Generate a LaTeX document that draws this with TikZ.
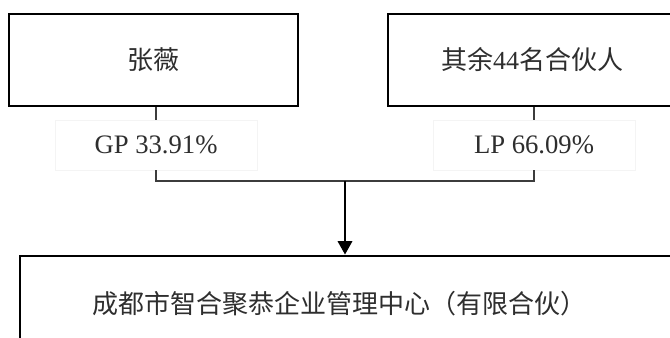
\documentclass[tikz,border=0pt]{standalone}
\usepackage{fontspec}
\setmainfont{Liberation Serif}
\newfontfamily\cjk{Noto Sans CJK SC}
\usetikzlibrary{arrows.meta,positioning}
\definecolor{Ink}{HTML}{2E2E2E}
\definecolor{Wire}{HTML}{3C3C3C}
\definecolor{Ghost}{HTML}{F4F4F4}
\tikzset{
  entity/.style={draw=black,fill=white,line width=1.5pt,minimum width=216.75pt,minimum height=69pt,inner sep=0pt,align=center,text=Ink,font=\fontsize{19.5}{23}\selectfont},
  share/.style={draw=Ghost,fill=white,line width=.5pt,minimum width=151.5pt,minimum height=37.5pt,inner sep=0pt,align=center,text=Ink,font=\fontsize{20}{23}\selectfont},
  link/.style={draw=Wire,line width=.8pt},
  flow/.style={-{Triangle[length=10pt,width=11pt]},draw=black,line width=.9pt}
}
\begin{document}
\begin{tikzpicture}[x=.75pt,y=-.75pt]
  \path[use as bounding box,fill=white] (0,0) rectangle (670,338);
  \clip (0,0) rectangle (670,338);

  % partners
  \node[entity] (zhang) at (153.5,60) {{\cjk 张薇}};
  \node[entity] (rest) at (532,60) {{\cjk 其余}44{\cjk 名合伙人}};

  % shares
  \node[share] (gp) at (156,145) {GP 33.91\%};
  \node[share] (lp) at (534,145) {LP 66.09\%};

  % the fund
  \node[entity,anchor=north west,minimum height=72.75pt,text width=560pt,align=left,inner xsep=55pt] (fund) at (18.5,254.5) {{\cjk 成都市智合聚恭企业管理中心（有限合伙）}};

  \draw[link] (gp.north |- zhang.south) -- (gp.north);
  \draw[link] (lp.north |- rest.south) -- (lp.north);
  \coordinate (join) at (345,181);
  \draw[link] (gp.south) |- (join) -| (lp.south);
  \draw[flow] (join) -- (join |- fund.north);
\end{tikzpicture}
\end{document}
